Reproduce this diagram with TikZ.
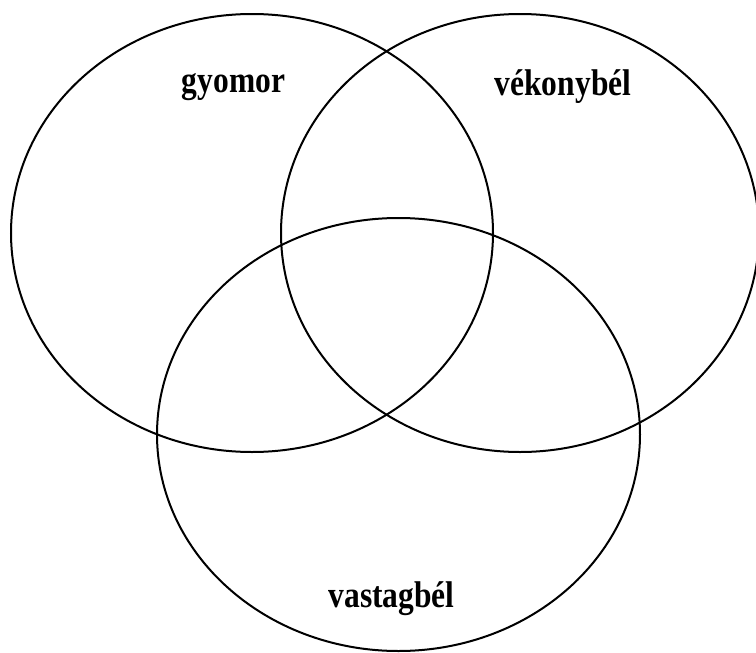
\documentclass[tikz,border=0pt]{standalone}
\usepackage{fontspec}
\usepackage{graphicx}
\setmainfont{Liberation Serif}
\usetikzlibrary{shapes.geometric}

\newcommand{\tallword}[1]{\scalebox{1}[1.18]{#1}}

\begin{document}
\begin{tikzpicture}[
  x=1pt,y=-1pt,
  set/.style={draw,ellipse,line width=2pt,inner sep=0pt},
  setlabel/.style={anchor=base,font=\fontsize{31.5}{36}\selectfont\bfseries}
]
\useasboundingbox (0,0) rectangle (756,653);
\node[set,minimum width=482pt,minimum height=438pt] (gyo) at (252,233) {};
\node[set,minimum width=478pt,minimum height=438pt] (vek) at (520,233) {};
\node[set,minimum width=483pt,minimum height=433pt] (vas) at (398.5,434.5) {};

\node[setlabel] (lgyo) at (233.5,92) {\tallword{gyomor}};
\node[setlabel] (lvek) at (563,95) {\tallword{vékonybél}};
\node[setlabel] (lvas) at (391.5,607) {\tallword{vastagbél}};
\end{tikzpicture}
\end{document}
